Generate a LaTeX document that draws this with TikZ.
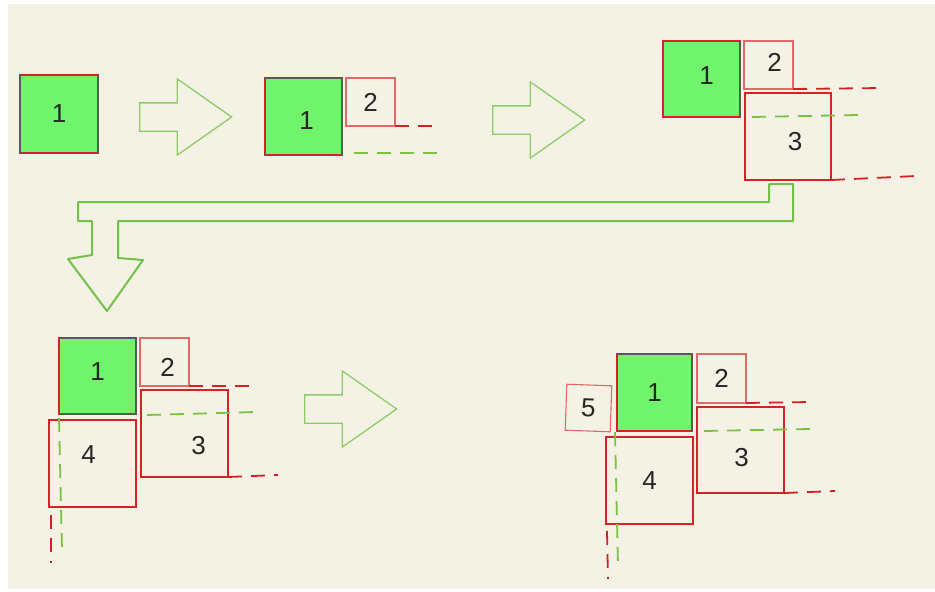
\documentclass[tikz,border=0pt]{standalone}
\usepackage{fontspec}
\setmainfont{Liberation Sans}
\usetikzlibrary{shapes.arrows}
\definecolor{paper}{HTML}{F4F2E4}
\definecolor{okgreen}{HTML}{6FF46B}
\definecolor{boxred}{HTML}{D62224}
\definecolor{lightred}{HTML}{E06A6A}
\definecolor{arrowgreen}{HTML}{8DCC66}
\definecolor{bargreen}{HTML}{74C04A}
\definecolor{dashred}{HTML}{D42020}
\definecolor{dashgreen}{HTML}{7CC242}
\begin{document}
\begin{tikzpicture}[x=1pt, y=-1pt,
  num/.style={font=\fontsize{26}{26}\selectfont, text=black!85},
  wh/.style 2 args={minimum width=#1pt, minimum height=#2pt},
  txt/.style n args={3}{label={[num, xshift=#2pt, yshift=#3pt]center:#1}},
  sqone/.style={rectangle, inner sep=0, outer sep=0, num, fill=okgreen, draw=boxred, line width=2.2pt, postaction={draw=black!65, line width=0.5pt}},
  sqlight/.style={rectangle, inner sep=0, outer sep=0, num, draw=lightred, line width=1.1pt},
  sqbig/.style={rectangle, inner sep=0, outer sep=0, num, draw=boxred, line width=2pt},
  flow/.style={single arrow, draw=arrowgreen, line width=1.3pt, minimum height=92pt, inner sep=13.5pt, single arrow head extend=24pt, single arrow tip angle=70, anchor=tail},
  reddash/.style={draw=dashred, line width=1.8pt, dash pattern=on 14pt off 9pt},
  greendash/.style={draw=dashgreen, line width=1.8pt, dash pattern=on 14pt off 9pt}]
\useasboundingbox (0,0) rectangle (935,592);
\fill[paper] (8,4) rectangle (935,589);
% step 1
\node[sqone, wh={78}{78}] (sq1a) at (59,114) {1};
\node[flow] (go1) at (139,117) {};
% step 2
\node[sqone, wh={77}{77}, txt={1}{3}{-4}] (sq1b) at (303.5,116.5) {};
\node[sqlight, wh={49}{48}] (sq2b) at (370.5,102) {2};
\coordinate (r2b) at (436,126);
\coordinate (g2a) at (354,153);
\coordinate (g2b) at (437,153);
\draw[reddash] (sq2b.south east) -- (r2b);
\draw[greendash] (g2a) -- (g2b);
\node[flow] (go2) at (492,120) {};
% step 3
\node[sqone, wh={77}{76}, txt={1}{5}{3}] (sq1c) at (701.5,79) {};
\node[sqlight, wh={49}{48}, txt={2}{6}{3}] (sq2c) at (768.5,65) {};
\node[sqbig, wh={86}{87}, txt={3}{7}{-5}] (sq3c) at (788,136.5) {};
\coordinate (r3a) at (882,88);
\coordinate (g3a) at (752,117);
\coordinate (g3b) at (858,115);
\coordinate (r3b) at (916,176);
\draw[reddash] (sq2c.south east) -- (r3a);
\draw[greendash] (g3a) -- (g3b);
\draw[reddash] (sq3c.south east) -- (r3b);
\draw[bargreen, line width=2pt, line join=round] (78,202) -- (769,202) -- (769,184) -- (793,184) -- (793,221)
  -- (118,221) -- (118,258) -- (143,260) -- (107,311) -- (68,259) -- (92,255) -- (92,221) -- (78,221) -- cycle;
% step 4
\node[sqone, wh={77}{76}, txt={1}{0}{4}] (sq1d) at (97.5,376) {};
\node[sqlight, wh={49}{48}, txt={2}{3}{-5}] (sq2d) at (164.5,362) {};
\node[sqbig, wh={87}{87}, txt={3}{14}{-12}] (sq3d) at (184.5,433.5) {};
\node[sqbig, wh={87}{87}, txt={4}{-4}{9}] (sq4d) at (92.5,463.5) {};
\coordinate (r4a) at (255,386);
\coordinate (g4a) at (147,415);
\coordinate (g4b) at (255,412);
\coordinate (r4b) at (278,475);
\coordinate (r4c) at (51,515);
\coordinate (r4d) at (51,563);
\coordinate (g4c) at (59,418);
\coordinate (g4d) at (62,550);
\draw[reddash] (sq2d.south east) -- (r4a);
\draw[greendash] (g4a) -- (g4b);
\draw[reddash] (sq3d.south east) -- (r4b);
\draw[reddash] (r4c) -- (r4d);
\draw[greendash] (g4c) -- (g4d);
\node[flow] (go3) at (304,409) {};
% step 5
\node[sqone, wh={75}{77}] (sq1e) at (654.5,392.5) {1};
\node[sqlight, wh={49}{49}] (sq2e) at (721.5,378.5) {2};
\node[sqbig, wh={87}{86}, txt={3}{1}{-8}] (sq3e) at (740.5,450) {};
\node[sqbig, wh={87}{87}] (sq4e) at (649.5,480.5) {4};
\node[sqlight, wh={45}{46}, rotate=-2] (sq5e) at (588.5,408) {5};
\coordinate (r5a) at (810,402);
\coordinate (g5a) at (704,431);
\coordinate (g5b) at (810,429);
\coordinate (r5b) at (835,491);
\coordinate (r5c) at (607,531);
\coordinate (r5d) at (608,579);
\coordinate (g5c) at (615,432);
\coordinate (g5d) at (618,565);
\draw[reddash] (sq2e.south east) -- (r5a);
\draw[greendash] (g5a) -- (g5b);
\draw[reddash] (sq3e.south east) -- (r5b);
\draw[reddash] (r5c) -- (r5d);
\draw[greendash] (g5c) -- (g5d);
\end{tikzpicture}
\end{document}
